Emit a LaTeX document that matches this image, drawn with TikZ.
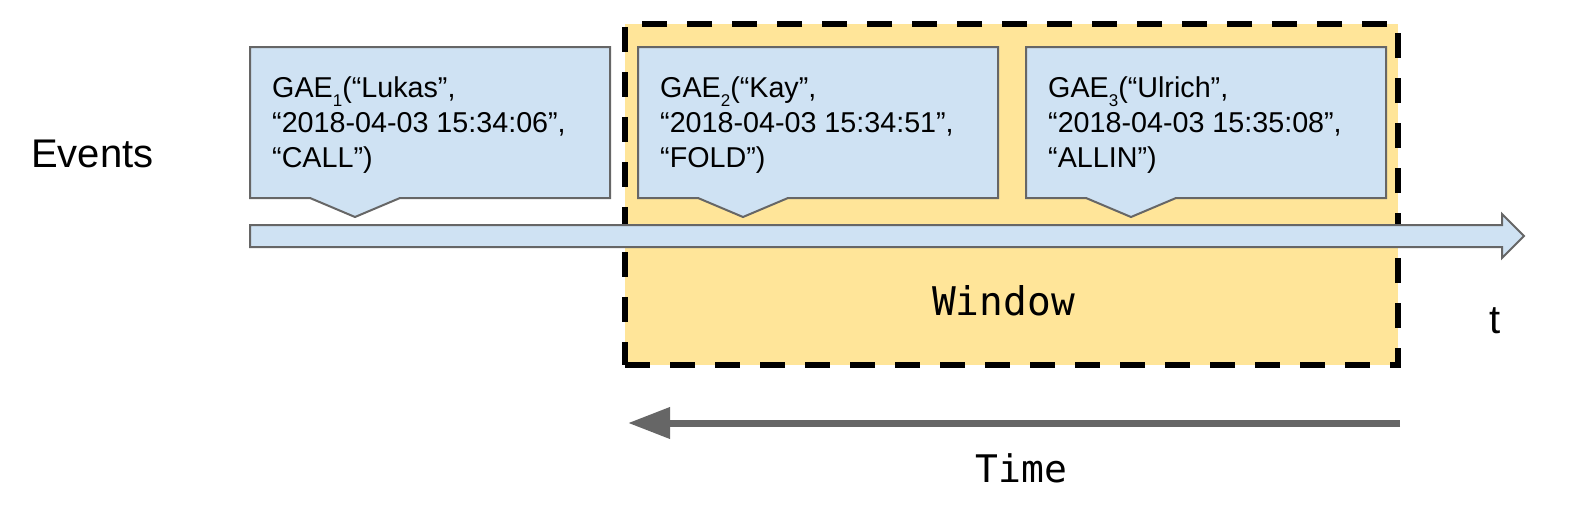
\documentclass[tikz,border=0pt]{standalone}
\usepackage{fontspec}
\setmainfont{Liberation Sans}
\newfontfamily\monof{DejaVu Sans Mono}
\usetikzlibrary{arrows.meta}
\definecolor{boxfill}{HTML}{CFE2F3}
\definecolor{boxline}{HTML}{666666}
\definecolor{winfill}{HTML}{FFE599}
\definecolor{timecol}{HTML}{666666}
\tikzset{
  callout/.style={fill=boxfill, draw=boxline, line width=2pt, line join=miter},
  gaetext/.style={inner sep=0pt, anchor=base west, font=\fontsize{28.7}{35}\selectfont},
  bigtext/.style={inner sep=0pt, font=\fontsize{40}{48}\selectfont},
  monotext/.style={inner sep=0pt, anchor=base},
  windowbox/.style={fill=winfill, draw=black, line width=6pt, dash pattern=on 25pt off 20pt, minimum width=773pt, minimum height=341pt, inner sep=0pt},
  timearrow/.style={draw=timecol, line width=7pt, -{Triangle[length=42pt,width=30pt]}},
}
\newcommand\gsub[1]{\smash{\raisebox{-0.34em}{\fontsize{17}{17}\selectfont #1}}}
\newcommand\gaebox[6]{%
  \draw[callout] (#2,47) -- (#2+360,47) -- (#2+360,198) -- (#2+150,198) -- (#2+105,217) coordinate (#1tip) -- (#2+60,198) -- (#2,198) -- cycle;
  \node[gaetext] (#1a) at (#2+22,97) {GAE\gsub{#3}(“#4”,};
  \node[gaetext] (#1b) at (#2+22,132) {“#5”,};
  \node[gaetext] (#1c) at (#2+22,167) {“#6”)};
}
\begin{document}
\begin{tikzpicture}[x=1pt,y=-1pt]
\useasboundingbox (0,0) rectangle (1572,504);
% window
\node[windowbox] (win) at (1011.5,194.5) {};
\node[monotext, font=\monof\fontsize{39.5}{46}\selectfont] (wlabel) at (1003.5,315) {Window};
% events label
\node[bigtext, anchor=base west] (events) at (31,167) {Events};
% callouts
\gaebox{g1}{250}{1}{Lukas}{2018-04-03 15:34:06}{CALL}
\gaebox{g2}{638}{2}{Kay}{2018-04-03 15:34:51}{FOLD}
\gaebox{g3}{1026}{3}{Ulrich}{2018-04-03 15:35:08}{ALLIN}
% timeline bar
\draw[callout] (250,225) -- (1502,225) -- (1502,214) -- (1524,236) coordinate (bartip) -- (1502,258) -- (1502,247) -- (250,247) -- cycle;
\node[bigtext, anchor=base] (t) at (1495,333) {t};
% time arrow
\coordinate (ts) at (1400,423);
\coordinate (te) at (628,423);
\draw[timearrow] (ts) -- (te);
\node[monotext, font=\monof\fontsize{38}{44}\selectfont] (time) at (1021.5,482) {Time};
\end{tikzpicture}
\end{document}
